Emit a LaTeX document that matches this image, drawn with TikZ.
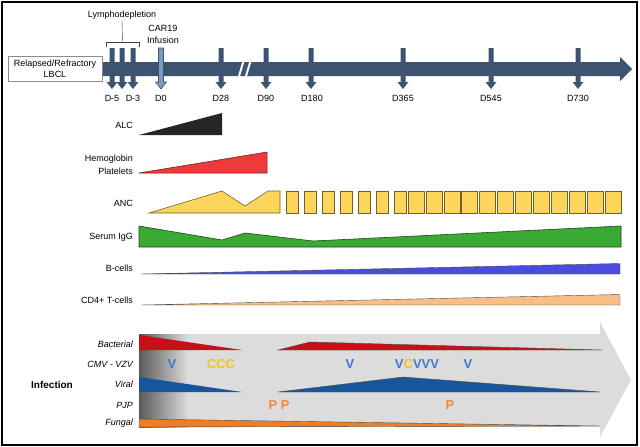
\documentclass[tikz,border=0pt]{standalone}
\usepackage{fontspec}
\setmainfont{Liberation Sans}
\usetikzlibrary{arrows.meta,positioning}
\definecolor{barc}{HTML}{3D5470}
\definecolor{dzero}{HTML}{7B9BC2}
\definecolor{hbc}{HTML}{F03A3A}
\definecolor{ancc}{HTML}{FDD55A}
\definecolor{igc}{HTML}{3AAA35}
\definecolor{bcc}{HTML}{4B4BE0}
\definecolor{cdc}{HTML}{F9BE86}
\definecolor{infc}{HTML}{DCDCDC}
\definecolor{bactc}{HTML}{C8101A}
\definecolor{viralc}{HTML}{17559C}
\definecolor{vc}{HTML}{3C7CD0}
\definecolor{cc}{HTML}{F5C518}
\definecolor{pc}{HTML}{F08A3A}
\definecolor{fungc}{HTML}{F07D22}
\tikzset{basic/.style={font=\fontsize{9}{11}\selectfont,inner sep=1pt}}
\tikzset{rowlbl/.style={basic,anchor=east,align=right}}
\tikzset{inflbl/.style={rowlbl,font=\fontsize{9}{11}\selectfont\itshape}}
\tikzset{daylbl/.style={basic}}
\tikzset{startbox/.style={basic,draw=black!45,fill=white,align=center,minimum width=94pt,minimum height=25pt}}
\tikzset{ancbox/.style={fill=ancc,draw=black!55!ancc,line width=0.6pt}}
\tikzset{wedge/.style={draw=black!70,line width=0.4pt}}
\tikzset{letter/.style={font=\fontsize{13}{14}\selectfont\bfseries,inner sep=0pt}}
\tikzset{tick/.pic={\path[pic actions] (-2.5,0) -- (-2.5,34) -- (-5.5,34) -- (0,41) -- (5.5,34) -- (2.5,34) -- (2.5,0) -- cycle;}}

\begin{document}
\begin{tikzpicture}[x=1pt,y=-1pt]
    \useasboundingbox (0,0) rectangle (640,447);
    \draw[line width=1.2pt] (2,2) rectangle (637,445);

    % timeline
    \fill[barc] (100,62) -- (620,62) -- (620,57) -- (632,69) -- (620,81) -- (620,76) -- (100,76) -- cycle;
    \node[startbox] (lbcl) at (55,68.5) {Relapsed/Refractory\\LBCL};
    \draw[white,line width=2pt] (237,83) -- (245,56);
    \draw[white,line width=2pt] (244,83) -- (252,56);
    \foreach \x in {112,122,133,221,266,311,403,491,578}
        \pic[fill=barc] at (\x,48) {tick};
    \pic[fill=dzero,draw=barc,line width=0.6pt] at (161,48) {tick};
    \foreach \x/\t in {112/D-5,133/D-3,161/D0,221/D28,266/D90,312/D180,403/D365,491/D545,578/D730}
        \node[daylbl] (day\x) at (\x,98) {\t};

    \node[basic] (lympho) at (122,15) {Lymphodepletion};
    \draw[black!75] (106,47) -- (106,42) -- (139,42) -- (139,47);
    \draw[black!75] (122.5,42) -- (lympho.south);
    \node[basic,align=center,font=\fontsize{9}{12.5}\selectfont] (car) at (163,34.5) {CAR19\\Infusion};

    % blood counts
    \node[rowlbl] (alc) at (134,125) {ALC};
    \fill[black!85] (139,135) -- (222,113) -- (222,135) -- cycle;

    \node[rowlbl,font=\fontsize{9}{13}\selectfont] (hb) at (134,164.5) {Hemoglobin\\Platelets};
    \filldraw[fill=hbc,draw=black!60!hbc,line width=0.5pt] (139,173) -- (267,152) -- (267,173) -- cycle;

    \node[rowlbl] (anc) at (134,203) {ANC};
    \draw[ancbox] (149,213) -- (222,191) -- (245,206) -- (268,191) -- (280,191) -- (280,213) -- cycle;
    \foreach \x in {286,304,...,394}
        \draw[ancbox] (\x,191) rectangle ++(12.5,22);
    \foreach \i in {0,...,11}
        \draw[ancbox] ({408+\i*17.9},191) rectangle ++(16,22);

    \node[rowlbl] (igg) at (134,237) {Serum IgG};
    \filldraw[fill=igc,draw=black!55!igc,line width=0.6pt] (139,226) -- (222,240) -- (245,233) -- (313,241) -- (621,226) -- (621,247) -- (139,247) -- cycle;

    \node[rowlbl] (bcell) at (134,268) {B-cells};
    \filldraw[wedge,fill=bcc] (141,274) -- (620,263.5) -- (620,274) -- cycle;

    \node[rowlbl] (cd4) at (134,300) {CD4+ T-cells};
    \filldraw[wedge,fill=cdc] (141,305) -- (620,294.5) -- (620,305) -- cycle;

    % infection
    \fill[infc] (139,334) -- (600,334) -- (600,322) -- (631,380) -- (600,437) -- (600,427) -- (139,427) -- cycle;
    \shade[left color=black!65,right color=infc] (139,334) rectangle (188,427);

    \fill[bactc] (139,335) -- (242,350) -- (139,350) -- cycle;
    \filldraw[wedge,fill=bactc] (278,350) -- (310,342) -- (602,350) -- cycle;
    \fill[viralc] (139,377) -- (242,392) -- (139,392) -- cycle;
    \filldraw[wedge,fill=viralc] (278,392) -- (403,377) -- (600,392) -- cycle;
    \filldraw[wedge,fill=fungc] (139,419) -- (600,426) -- (139,427) -- cycle;

    \node[letter,text=vc] (v1) at (172,364) {V};
    \node[letter,text=cc] (c1) at (221,364) {CCC};
    \node[letter,text=vc] (v2) at (350,364) {V};
    \node[letter,text=vc] (v3) at (417,364) {V\textcolor{cc}{C}VVV};
    \node[letter,text=vc] (v4) at (468,364) {V};
    \node[letter,text=pc] (p1) at (279,405) {P P};
    \node[letter,text=pc] (p2) at (450,405) {P};

    \node[inflbl] (bact) at (134,344) {Bacterial};
    \node[inflbl] (cmv) at (134,364) {CMV - VZV};
    \node[inflbl] (viral) at (134,384) {Viral};
    \node[inflbl] (pjp) at (134,405) {PJP};
    \node[inflbl] (fung) at (134,423) {Fungal};
    \node[basic,font=\fontsize{10}{12}\selectfont\bfseries] (inf) at (52,385) {Infection};
\end{tikzpicture}
\end{document}
